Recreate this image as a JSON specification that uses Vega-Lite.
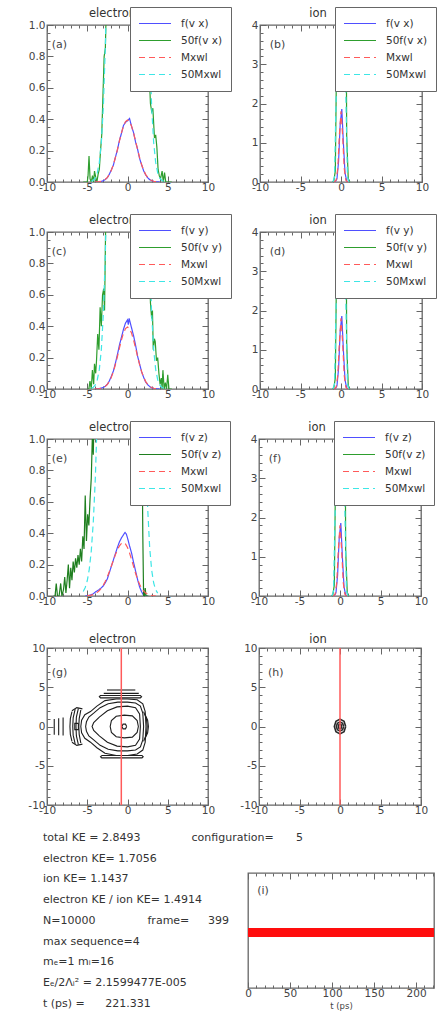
{
"$schema":"https://vega.github.io/schema/vega-lite/v6.json",
"padding":{"left":27,"top":5,"right":0,"bottom":0},
"background":"white",
"config":{
 "font":"DejaVu Sans",
 "view":{"stroke":"#666","strokeWidth":1.3},
 "axis":{"domain":false,"grid":false,"labelFont":"DejaVu Sans","labelFontSize":10.5,"labelColor":"#444","tickColor":"#666","tickWidth":1,"titleFont":"DejaVu Sans","titleFontWeight":"normal","titleColor":"#444"},
 "title":{"font":"DejaVu Sans","fontSize":11.5,"fontWeight":"normal","color":"#333","anchor":"middle","frame":"group"},
 "legend":{"strokeColor":"#666","fillColor":"white","padding":8,"labelFont":"DejaVu Sans","labelFontSize":10.5,"labelColor":"#333","symbolStrokeWidth":1.4,"rowPadding":0},
 "line":{"strokeWidth":1.2}
},
"datasets":{
 "af":[
  {"v":-4,"p":0,"s":"f"},{"v":-3.75,"p":0.001,"s":"f"},{"v":-3.5,"p":0.002,"s":"f"},{"v":-3.25,"p":0.004,"s":"f"},{"v":-3,"p":0.008,"s":"f"},{"v":-2.75,"p":0.016,"s":"f"},{"v":-2.5,"p":0.028,"s":"f"},{"v":-2.25,"p":0.05,"s":"f"},{"v":-2,"p":0.078,"s":"f"},{"v":-1.75,"p":0.108,"s":"f"},{"v":-1.5,"p":0.158,"s":"f"},{"v":-1.25,"p":0.205,"s":"f"},{"v":-1,"p":0.265,"s":"f"},{"v":-0.75,"p":0.31,"s":"f"},{"v":-0.5,"p":0.36,"s":"f"},{"v":-0.25,"p":0.38,"s":"f"},{"v":0,"p":0.39,"s":"f"},{"v":0.25,"p":0.405,"s":"f"},{"v":0.5,"p":0.355,"s":"f"},{"v":0.75,"p":0.315,"s":"f"},{"v":1,"p":0.255,"s":"f"},{"v":1.25,"p":0.21,"s":"f"},{"v":1.5,"p":0.15,"s":"f"},{"v":1.75,"p":0.11,"s":"f"},{"v":2,"p":0.072,"s":"f"},{"v":2.25,"p":0.046,"s":"f"},{"v":2.5,"p":0.028,"s":"f"},{"v":2.75,"p":0.015,"s":"f"},{"v":3,"p":0.009,"s":"f"},{"v":3.25,"p":0.004,"s":"f"},{"v":3.5,"p":0.002,"s":"f"},{"v":3.75,"p":0.001,"s":"f"},{"v":4,"p":0,"s":"f"},
  {"v":-5.5,"p":0,"s":"50f"},{"v":-5,"p":0,"s":"50f"},{"v":-4.9,"p":0.04,"s":"50f"},{"v":-4.78,"p":0.165,"s":"50f"},{"v":-4.65,"p":0.02,"s":"50f"},{"v":-4.5,"p":0,"s":"50f"},{"v":-4.35,"p":0.04,"s":"50f"},{"v":-4.2,"p":0,"s":"50f"},{"v":-4.1,"p":0.07,"s":"50f"},{"v":-3.95,"p":0.03,"s":"50f"},{"v":-3.8,"p":0,"s":"50f"},{"v":-3.65,"p":0.05,"s":"50f"},{"v":-3.5,"p":0.08,"s":"50f"},{"v":-3.35,"p":0.2,"s":"50f"},{"v":-3.2,"p":0.3,"s":"50f"},{"v":-3.05,"p":0.55,"s":"50f"},{"v":-2.9,"p":0.8,"s":"50f"},{"v":-2.75,"p":0.85,"s":"50f"},{"v":-2.6,"p":1.2,"s":"50f"},{"v":-2.5,"p":1.4,"s":"50f"},{"v":-2.25,"p":2.5,"s":"50f"},{"v":-2,"p":3.9,"s":"50f"},{"v":-1.5,"p":7.9,"s":"50f"},{"v":-1,"p":13.2,"s":"50f"},{"v":-0.5,"p":18,"s":"50f"},{"v":0,"p":19.5,"s":"50f"},{"v":0.5,"p":17.8,"s":"50f"},{"v":1,"p":12.8,"s":"50f"},{"v":1.5,"p":7.5,"s":"50f"},{"v":2,"p":3.6,"s":"50f"},{"v":2.25,"p":2.3,"s":"50f"},{"v":2.5,"p":1.4,"s":"50f"},{"v":2.65,"p":0.75,"s":"50f"},{"v":2.85,"p":0.5,"s":"50f"},{"v":3,"p":0.45,"s":"50f"},{"v":3.15,"p":0.47,"s":"50f"},{"v":3.35,"p":0.28,"s":"50f"},{"v":3.5,"p":0.3,"s":"50f"},{"v":3.65,"p":0.22,"s":"50f"},{"v":3.8,"p":0.08,"s":"50f"},{"v":3.95,"p":0.04,"s":"50f"},{"v":4.1,"p":0.02,"s":"50f"},{"v":4.3,"p":0.07,"s":"50f"},{"v":4.45,"p":0,"s":"50f"},{"v":4.6,"p":0.06,"s":"50f"},{"v":4.75,"p":0,"s":"50f"},{"v":5.5,"p":0,"s":"50f"}
 ],
 "mx":[
  {"v":-4,"p":0.0005,"s":"m"},{"v":-3.75,"p":0.0012,"s":"m"},{"v":-3.5,"p":0.0025,"s":"m"},{"v":-3.25,"p":0.005,"s":"m"},{"v":-3,"p":0.0096,"s":"m"},{"v":-2.75,"p":0.0173,"s":"m"},{"v":-2.5,"p":0.0299,"s":"m"},{"v":-2.25,"p":0.0487,"s":"m"},{"v":-2,"p":0.0756,"s":"m"},{"v":-1.75,"p":0.1114,"s":"m"},{"v":-1.5,"p":0.1559,"s":"m"},{"v":-1.25,"p":0.2071,"s":"m"},{"v":-1,"p":0.2613,"s":"m"},{"v":-0.75,"p":0.3131,"s":"m"},{"v":-0.5,"p":0.3562,"s":"m"},{"v":-0.25,"p":0.385,"s":"m"},{"v":0,"p":0.395,"s":"m"},{"v":0.25,"p":0.385,"s":"m"},{"v":0.5,"p":0.3562,"s":"m"},{"v":0.75,"p":0.3131,"s":"m"},{"v":1,"p":0.2613,"s":"m"},{"v":1.25,"p":0.2071,"s":"m"},{"v":1.5,"p":0.1559,"s":"m"},{"v":1.75,"p":0.1114,"s":"m"},{"v":2,"p":0.0756,"s":"m"},{"v":2.25,"p":0.0487,"s":"m"},{"v":2.5,"p":0.0299,"s":"m"},{"v":2.75,"p":0.0173,"s":"m"},{"v":3,"p":0.0096,"s":"m"},{"v":3.25,"p":0.005,"s":"m"},{"v":3.5,"p":0.0025,"s":"m"},{"v":3.75,"p":0.0012,"s":"m"},{"v":4,"p":0.0005,"s":"m"},
  {"v":-4.5,"p":0.0046,"s":"50m"},{"v":-4.25,"p":0.0113,"s":"50m"},{"v":-4,"p":0.026,"s":"50m"},{"v":-3.75,"p":0.059,"s":"50m"},{"v":-3.5,"p":0.125,"s":"50m"},{"v":-3.25,"p":0.251,"s":"50m"},{"v":-3,"p":0.479,"s":"50m"},{"v":-2.75,"p":0.867,"s":"50m"},{"v":-2.5,"p":1.49,"s":"50m"},{"v":-2.25,"p":2.44,"s":"50m"},{"v":-2,"p":3.78,"s":"50m"},{"v":-1.5,"p":7.79,"s":"50m"},{"v":-1,"p":13.07,"s":"50m"},{"v":-0.5,"p":17.81,"s":"50m"},{"v":0,"p":19.75,"s":"50m"},{"v":0.5,"p":17.81,"s":"50m"},{"v":1,"p":13.07,"s":"50m"},{"v":1.5,"p":7.79,"s":"50m"},{"v":2,"p":3.78,"s":"50m"},{"v":2.25,"p":2.44,"s":"50m"},{"v":2.5,"p":1.49,"s":"50m"},{"v":2.75,"p":0.867,"s":"50m"},{"v":3,"p":0.479,"s":"50m"},{"v":3.25,"p":0.251,"s":"50m"},{"v":3.5,"p":0.125,"s":"50m"},{"v":3.75,"p":0.059,"s":"50m"},{"v":4,"p":0.026,"s":"50m"},{"v":4.25,"p":0.0113,"s":"50m"},{"v":4.5,"p":0.0046,"s":"50m"}
 ],
 "cf":[
  {"v":-4,"p":0,"s":"f"},{"v":-3.75,"p":0.001,"s":"f"},{"v":-3.5,"p":0.003,"s":"f"},{"v":-3.25,"p":0.006,"s":"f"},{"v":-3,"p":0.01,"s":"f"},{"v":-2.75,"p":0.018,"s":"f"},{"v":-2.5,"p":0.03,"s":"f"},{"v":-2.25,"p":0.052,"s":"f"},{"v":-2,"p":0.082,"s":"f"},{"v":-1.75,"p":0.115,"s":"f"},{"v":-1.5,"p":0.165,"s":"f"},{"v":-1.25,"p":0.22,"s":"f"},{"v":-1,"p":0.28,"s":"f"},{"v":-0.75,"p":0.33,"s":"f"},{"v":-0.5,"p":0.38,"s":"f"},{"v":-0.25,"p":0.42,"s":"f"},{"v":0,"p":0.44,"s":"f"},{"v":0.1,"p":0.41,"s":"f"},{"v":0.2,"p":0.45,"s":"f"},{"v":0.35,"p":0.42,"s":"f"},{"v":0.5,"p":0.39,"s":"f"},{"v":0.75,"p":0.34,"s":"f"},{"v":1,"p":0.28,"s":"f"},{"v":1.25,"p":0.21,"s":"f"},{"v":1.5,"p":0.16,"s":"f"},{"v":1.75,"p":0.11,"s":"f"},{"v":2,"p":0.075,"s":"f"},{"v":2.25,"p":0.045,"s":"f"},{"v":2.5,"p":0.028,"s":"f"},{"v":2.75,"p":0.016,"s":"f"},{"v":3,"p":0.008,"s":"f"},{"v":3.25,"p":0.004,"s":"f"},{"v":3.5,"p":0.002,"s":"f"},{"v":3.75,"p":0.001,"s":"f"},{"v":4,"p":0,"s":"f"},
  {"v":-5,"p":0,"s":"50f"},{"v":-4.8,"p":0,"s":"50f"},{"v":-4.66,"p":0.05,"s":"50f"},{"v":-4.5,"p":0,"s":"50f"},{"v":-4.36,"p":0.12,"s":"50f"},{"v":-4.2,"p":0.03,"s":"50f"},{"v":-4.1,"p":0.16,"s":"50f"},{"v":-3.95,"p":0.1,"s":"50f"},{"v":-3.85,"p":0.18,"s":"50f"},{"v":-3.7,"p":0.35,"s":"50f"},{"v":-3.55,"p":0.25,"s":"50f"},{"v":-3.4,"p":0.52,"s":"50f"},{"v":-3.25,"p":0.4,"s":"50f"},{"v":-3.1,"p":0.6,"s":"50f"},{"v":-2.95,"p":0.64,"s":"50f"},{"v":-2.85,"p":0.5,"s":"50f"},{"v":-2.7,"p":1.1,"s":"50f"},{"v":-2.5,"p":1.5,"s":"50f"},{"v":-2.25,"p":2.6,"s":"50f"},{"v":-2,"p":4.1,"s":"50f"},{"v":-1.5,"p":8.25,"s":"50f"},{"v":-1,"p":14,"s":"50f"},{"v":-0.5,"p":19,"s":"50f"},{"v":0,"p":22,"s":"50f"},{"v":0.5,"p":19.5,"s":"50f"},{"v":1,"p":14,"s":"50f"},{"v":1.5,"p":8,"s":"50f"},{"v":2,"p":3.75,"s":"50f"},{"v":2.25,"p":2.25,"s":"50f"},{"v":2.5,"p":1.4,"s":"50f"},{"v":2.7,"p":0.8,"s":"50f"},{"v":2.85,"p":0.55,"s":"50f"},{"v":3,"p":0.45,"s":"50f"},{"v":3.1,"p":0.5,"s":"50f"},{"v":3.2,"p":0.25,"s":"50f"},{"v":3.35,"p":0.32,"s":"50f"},{"v":3.45,"p":0.3,"s":"50f"},{"v":3.6,"p":0.18,"s":"50f"},{"v":3.75,"p":0.2,"s":"50f"},{"v":3.9,"p":0.1,"s":"50f"},{"v":4.05,"p":0.03,"s":"50f"},{"v":4.2,"p":0.07,"s":"50f"},{"v":4.3,"p":0,"s":"50f"},{"v":4.4,"p":0.12,"s":"50f"},{"v":4.55,"p":0,"s":"50f"},{"v":4.7,"p":0.04,"s":"50f"},{"v":4.85,"p":0,"s":"50f"},{"v":5,"p":0.09,"s":"50f"},{"v":5.15,"p":0,"s":"50f"},{"v":5.5,"p":0,"s":"50f"}
 ],
 "ef":[
  {"v":-5.25,"p":0,"s":"f"},{"v":-5,"p":0.002,"s":"f"},{"v":-4.75,"p":0.004,"s":"f"},{"v":-4.5,"p":0.008,"s":"f"},{"v":-4.25,"p":0.014,"s":"f"},{"v":-4,"p":0.025,"s":"f"},{"v":-3.75,"p":0.033,"s":"f"},{"v":-3.5,"p":0.042,"s":"f"},{"v":-3.25,"p":0.052,"s":"f"},{"v":-3,"p":0.065,"s":"f"},{"v":-2.75,"p":0.085,"s":"f"},{"v":-2.5,"p":0.11,"s":"f"},{"v":-2.25,"p":0.15,"s":"f"},{"v":-2,"p":0.19,"s":"f"},{"v":-1.75,"p":0.23,"s":"f"},{"v":-1.5,"p":0.27,"s":"f"},{"v":-1.25,"p":0.31,"s":"f"},{"v":-1,"p":0.345,"s":"f"},{"v":-0.75,"p":0.37,"s":"f"},{"v":-0.5,"p":0.39,"s":"f"},{"v":-0.3,"p":0.405,"s":"f"},{"v":-0.15,"p":0.395,"s":"f"},{"v":0,"p":0.37,"s":"f"},{"v":0.25,"p":0.32,"s":"f"},{"v":0.5,"p":0.275,"s":"f"},{"v":0.75,"p":0.215,"s":"f"},{"v":1,"p":0.16,"s":"f"},{"v":1.25,"p":0.105,"s":"f"},{"v":1.5,"p":0.058,"s":"f"},{"v":1.75,"p":0.027,"s":"f"},{"v":2,"p":0.004,"s":"f"},{"v":2.25,"p":0,"s":"f"},{"v":2.5,"p":0,"s":"f"},
  {"v":-9.2,"p":0,"s":"50f"},{"v":-9,"p":0,"s":"50f"},{"v":-8.85,"p":0.08,"s":"50f"},{"v":-8.7,"p":0,"s":"50f"},{"v":-8.5,"p":0,"s":"50f"},{"v":-8.3,"p":0.08,"s":"50f"},{"v":-8.15,"p":0,"s":"50f"},{"v":-7.95,"p":0.04,"s":"50f"},{"v":-7.8,"p":0.12,"s":"50f"},{"v":-7.65,"p":0.02,"s":"50f"},{"v":-7.5,"p":0.1,"s":"50f"},{"v":-7.35,"p":0.2,"s":"50f"},{"v":-7.2,"p":0.05,"s":"50f"},{"v":-7.05,"p":0.18,"s":"50f"},{"v":-6.9,"p":0.1,"s":"50f"},{"v":-6.75,"p":0.22,"s":"50f"},{"v":-6.6,"p":0.15,"s":"50f"},{"v":-6.45,"p":0.24,"s":"50f"},{"v":-6.3,"p":0.18,"s":"50f"},{"v":-6.15,"p":0.26,"s":"50f"},{"v":-6,"p":0.2,"s":"50f"},{"v":-5.85,"p":0.3,"s":"50f"},{"v":-5.7,"p":0.22,"s":"50f"},{"v":-5.55,"p":0.38,"s":"50f"},{"v":-5.4,"p":0.3,"s":"50f"},{"v":-5.25,"p":0.64,"s":"50f"},{"v":-5.1,"p":0.35,"s":"50f"},{"v":-4.95,"p":0.52,"s":"50f"},{"v":-4.8,"p":0.45,"s":"50f"},{"v":-4.65,"p":0.62,"s":"50f"},{"v":-4.5,"p":0.75,"s":"50f"},{"v":-4.35,"p":1.05,"s":"50f"},{"v":-4.25,"p":0.9,"s":"50f"},{"v":-4.1,"p":1.3,"s":"50f"},{"v":-4,"p":1.25,"s":"50f"},{"v":-3.75,"p":1.65,"s":"50f"},{"v":-3.5,"p":2.1,"s":"50f"},{"v":-3,"p":3.25,"s":"50f"},{"v":-2.5,"p":5.5,"s":"50f"},{"v":-2,"p":9.5,"s":"50f"},{"v":-1,"p":17.2,"s":"50f"},{"v":0,"p":18.5,"s":"50f"},{"v":1,"p":8,"s":"50f"},{"v":1.5,"p":2.9,"s":"50f"},{"v":1.75,"p":1.35,"s":"50f"},{"v":1.9,"p":0.4,"s":"50f"},{"v":2,"p":0,"s":"50f"},{"v":2.1,"p":0,"s":"50f"},{"v":2.2,"p":0.05,"s":"50f"},{"v":2.3,"p":0,"s":"50f"},{"v":2.6,"p":0,"s":"50f"}
 ],
 "mxe":[
  {"v":-5,"p":0.0019,"s":"m"},{"v":-4.75,"p":0.0034,"s":"m"},{"v":-4.5,"p":0.0057,"s":"m"},{"v":-4.25,"p":0.0094,"s":"m"},{"v":-4,"p":0.0149,"s":"m"},{"v":-3.75,"p":0.023,"s":"m"},{"v":-3.5,"p":0.0342,"s":"m"},{"v":-3.25,"p":0.0494,"s":"m"},{"v":-3,"p":0.0691,"s":"m"},{"v":-2.75,"p":0.0935,"s":"m"},{"v":-2.5,"p":0.1225,"s":"m"},{"v":-2.25,"p":0.1557,"s":"m"},{"v":-2,"p":0.1915,"s":"m"},{"v":-1.75,"p":0.2282,"s":"m"},{"v":-1.5,"p":0.2634,"s":"m"},{"v":-1.25,"p":0.2945,"s":"m"},{"v":-1,"p":0.319,"s":"m"},{"v":-0.75,"p":0.3346,"s":"m"},{"v":-0.5,"p":0.34,"s":"m"},{"v":-0.25,"p":0.332,"s":"m"},{"v":0,"p":0.3093,"s":"m"},{"v":0.25,"p":0.2749,"s":"m"},{"v":0.5,"p":0.233,"s":"m"},{"v":0.75,"p":0.1884,"s":"m"},{"v":1,"p":0.1452,"s":"m"},{"v":1.25,"p":0.1068,"s":"m"},{"v":1.5,"p":0.0749,"s":"m"},{"v":1.75,"p":0.0502,"s":"m"},{"v":2,"p":0.032,"s":"m"},{"v":2.25,"p":0.0195,"s":"m"},{"v":2.5,"p":0.0113,"s":"m"},{"v":2.75,"p":0.0063,"s":"m"},{"v":3,"p":0.0033,"s":"m"},{"v":3.25,"p":0.0017,"s":"m"},{"v":3.5,"p":0.0008,"s":"m"},
  {"v":-5.5,"p":0.029,"s":"50m"},{"v":-5.25,"p":0.054,"s":"50m"},{"v":-5,"p":0.097,"s":"50m"},{"v":-4.75,"p":0.17,"s":"50m"},{"v":-4.5,"p":0.287,"s":"50m"},{"v":-4.25,"p":0.47,"s":"50m"},{"v":-4,"p":0.746,"s":"50m"},{"v":-3.75,"p":1.15,"s":"50m"},{"v":-3.5,"p":1.71,"s":"50m"},{"v":-3.25,"p":2.47,"s":"50m"},{"v":-3,"p":3.45,"s":"50m"},{"v":-2.5,"p":6.1,"s":"50m"},{"v":-2,"p":9.6,"s":"50m"},{"v":-1.5,"p":13.2,"s":"50m"},{"v":-1,"p":15.95,"s":"50m"},{"v":-0.5,"p":17,"s":"50m"},{"v":0,"p":15.5,"s":"50m"},{"v":0.5,"p":11.7,"s":"50m"},{"v":1,"p":7.26,"s":"50m"},{"v":1.25,"p":5.34,"s":"50m"},{"v":1.5,"p":3.75,"s":"50m"},{"v":1.75,"p":2.51,"s":"50m"},{"v":2,"p":1.6,"s":"50m"},{"v":2.25,"p":0.974,"s":"50m"},{"v":2.5,"p":0.566,"s":"50m"},{"v":2.75,"p":0.313,"s":"50m"},{"v":3,"p":0.166,"s":"50m"},{"v":3.25,"p":0.083,"s":"50m"},{"v":3.5,"p":0.04,"s":"50m"},{"v":3.75,"p":0.018,"s":"50m"}
 ],
 "if":[
  {"v":-1.1,"p":0,"s":"f"},{"v":-0.9,"p":0.0002,"s":"f"},{"v":-0.7,"p":0.0055,"s":"f"},{"v":-0.5,"p":0.081,"s":"f"},{"v":-0.3,"p":0.52,"s":"f"},{"v":-0.1,"p":1.47,"s":"f"},{"v":0.1,"p":1.86,"s":"f"},{"v":0.3,"p":0.97,"s":"f"},{"v":0.5,"p":0.228,"s":"f"},{"v":0.7,"p":0.0235,"s":"f"},{"v":0.9,"p":0.001,"s":"f"},{"v":1.1,"p":0,"s":"f"},
  {"v":-1.1,"p":0,"s":"50f"},{"v":-0.9,"p":0.008,"s":"50f"},{"v":-0.7,"p":0.28,"s":"50f"},{"v":-0.5,"p":4.06,"s":"50f"},{"v":-0.3,"p":26,"s":"50f"},{"v":-0.1,"p":73,"s":"50f"},{"v":0.1,"p":93,"s":"50f"},{"v":0.3,"p":48.5,"s":"50f"},{"v":0.5,"p":11.4,"s":"50f"},{"v":0.7,"p":1.18,"s":"50f"},{"v":0.9,"p":0.053,"s":"50f"},{"v":1.1,"p":0,"s":"50f"}
 ],
 "im":[
  {"v":-1,"p":0.0001,"s":"m"},{"v":-0.8,"p":0.0024,"s":"m"},{"v":-0.6,"p":0.0437,"s":"m"},{"v":-0.4,"p":0.345,"s":"m"},{"v":-0.2,"p":1.19,"s":"m"},{"v":0,"p":1.8,"s":"m"},{"v":0.2,"p":1.19,"s":"m"},{"v":0.4,"p":0.345,"s":"m"},{"v":0.6,"p":0.0437,"s":"m"},{"v":0.8,"p":0.0024,"s":"m"},{"v":1,"p":0.0001,"s":"m"},
  {"v":-1,"p":0.003,"s":"50m"},{"v":-0.8,"p":0.122,"s":"50m"},{"v":-0.6,"p":2.18,"s":"50m"},{"v":-0.4,"p":17.2,"s":"50m"},{"v":-0.2,"p":59.5,"s":"50m"},{"v":0,"p":90,"s":"50m"},{"v":0.2,"p":59.5,"s":"50m"},{"v":0.4,"p":17.2,"s":"50m"},{"v":0.6,"p":2.18,"s":"50m"},{"v":0.8,"p":0.122,"s":"50m"},{"v":1,"p":0.003,"s":"50m"}
 ],
 "gc":[
  {"c":1,"i":0,"x":-0.1,"y":0},{"c":1,"i":1,"x":-0.25,"y":0.3},{"c":1,"i":2,"x":-0.55,"y":0.3},{"c":1,"i":3,"x":-0.7,"y":0},{"c":1,"i":4,"x":-0.55,"y":-0.3},{"c":1,"i":5,"x":-0.25,"y":-0.3},{"c":1,"i":6,"x":-0.1,"y":0},
  {"c":2,"i":0,"x":1.35,"y":0},{"c":2,"i":1,"x":1.2,"y":0.75},{"c":2,"i":2,"x":0.6,"y":1.35},{"c":2,"i":3,"x":-0.4,"y":1.45},{"c":2,"i":4,"x":-1.4,"y":1.3},{"c":2,"i":5,"x":-2,"y":0.75},{"c":2,"i":6,"x":-2.15,"y":0},{"c":2,"i":7,"x":-2,"y":-0.75},{"c":2,"i":8,"x":-1.4,"y":-1.3},{"c":2,"i":9,"x":-0.4,"y":-1.45},{"c":2,"i":10,"x":0.6,"y":-1.35},{"c":2,"i":11,"x":1.2,"y":-0.75},{"c":2,"i":12,"x":1.35,"y":0},
  {"c":3,"i":0,"x":2,"y":0},{"c":3,"i":1,"x":1.9,"y":1.7},{"c":3,"i":2,"x":1.6,"y":2.6},{"c":3,"i":3,"x":1,"y":3},{"c":3,"i":4,"x":0,"y":3.1},{"c":3,"i":5,"x":-1.2,"y":3.1},{"c":3,"i":6,"x":-2.4,"y":2.9},{"c":3,"i":7,"x":-3.4,"y":2.4},{"c":3,"i":8,"x":-4.2,"y":1.7},{"c":3,"i":9,"x":-4.8,"y":1.2},{"c":3,"i":10,"x":-5.1,"y":0.6},{"c":3,"i":11,"x":-5.2,"y":0},{"c":3,"i":12,"x":-5.1,"y":-0.6},{"c":3,"i":13,"x":-4.8,"y":-1.2},{"c":3,"i":14,"x":-4.2,"y":-1.7},{"c":3,"i":15,"x":-3.4,"y":-2.4},{"c":3,"i":16,"x":-2.4,"y":-2.9},{"c":3,"i":17,"x":-1.2,"y":-3.1},{"c":3,"i":18,"x":0,"y":-3.1},{"c":3,"i":19,"x":1,"y":-3},{"c":3,"i":20,"x":1.6,"y":-2.6},{"c":3,"i":21,"x":1.9,"y":-1.7},{"c":3,"i":22,"x":2,"y":0},
  {"c":4,"i":0,"x":2.3,"y":0},{"c":4,"i":1,"x":2.2,"y":1.9},{"c":4,"i":2,"x":1.9,"y":2.9},{"c":4,"i":3,"x":1.2,"y":3.4},{"c":4,"i":4,"x":0,"y":3.5},{"c":4,"i":5,"x":-1.4,"y":3.5},{"c":4,"i":6,"x":-2.8,"y":3.3},{"c":4,"i":7,"x":-3.8,"y":2.6},{"c":4,"i":8,"x":-4.6,"y":1.9},{"c":4,"i":9,"x":-5.3,"y":1.5},{"c":4,"i":10,"x":-5.7,"y":0.8},{"c":4,"i":11,"x":-5.8,"y":0},{"c":4,"i":12,"x":-5.7,"y":-0.8},{"c":4,"i":13,"x":-5.3,"y":-1.5},{"c":4,"i":14,"x":-4.6,"y":-2},{"c":4,"i":15,"x":-3.8,"y":-2.7},{"c":4,"i":16,"x":-2.8,"y":-3.4},{"c":4,"i":17,"x":-1.4,"y":-3.7},{"c":4,"i":18,"x":0,"y":-3.7},{"c":4,"i":19,"x":1.2,"y":-3.5},{"c":4,"i":20,"x":1.9,"y":-3},{"c":4,"i":21,"x":2.2,"y":-2},{"c":4,"i":22,"x":2.3,"y":0},
  {"c":5,"i":0,"x":1.6,"y":0},{"c":5,"i":1,"x":1.5,"y":1.6},{"c":5,"i":2,"x":1,"y":2.4},{"c":5,"i":3,"x":0,"y":2.6},{"c":5,"i":4,"x":-1.3,"y":2.5},{"c":5,"i":5,"x":-2.5,"y":2},{"c":5,"i":6,"x":-3.5,"y":1.2},{"c":5,"i":7,"x":-4.2,"y":0.5},{"c":5,"i":8,"x":-4.4,"y":0},{"c":5,"i":9,"x":-4.2,"y":-0.5},{"c":5,"i":10,"x":-3.5,"y":-1.2},{"c":5,"i":11,"x":-2.5,"y":-2},{"c":5,"i":12,"x":-1.3,"y":-2.5},{"c":5,"i":13,"x":0,"y":-2.6},{"c":5,"i":14,"x":1,"y":-2.4},{"c":5,"i":15,"x":1.5,"y":-1.6},{"c":5,"i":16,"x":1.6,"y":0},
  {"c":6,"i":0,"x":2,"y":1.9},{"c":6,"i":1,"x":2.35,"y":1},{"c":6,"i":2,"x":2.45,"y":0},{"c":6,"i":3,"x":2.35,"y":-1},{"c":6,"i":4,"x":2,"y":-1.9},
  {"c":7,"i":0,"x":2.15,"y":1.6},{"c":7,"i":1,"x":2.5,"y":0.8},{"c":7,"i":2,"x":2.6,"y":0},{"c":7,"i":3,"x":2.5,"y":-0.8},{"c":7,"i":4,"x":2.15,"y":-1.6},
  {"c":8,"i":0,"x":-2.55,"y":4.65},{"c":8,"i":1,"x":0.97,"y":4.65},
  {"c":9,"i":0,"x":-2.95,"y":4.22},{"c":9,"i":1,"x":1.4,"y":4.22},
  {"c":10,"i":0,"x":-3.35,"y":3.95},{"c":10,"i":1,"x":1.6,"y":3.95},{"c":10,"i":2,"x":1.75,"y":3.8},{"c":10,"i":3,"x":1.6,"y":3.65},{"c":10,"i":4,"x":-3.35,"y":3.65},{"c":10,"i":5,"x":-3.5,"y":3.8},{"c":10,"i":6,"x":-3.35,"y":3.95},
  {"c":11,"i":0,"x":-3.2,"y":-3.7},{"c":11,"i":1,"x":1.8,"y":-3.7},{"c":11,"i":2,"x":1.95,"y":-3.85},{"c":11,"i":3,"x":1.8,"y":-4},{"c":11,"i":4,"x":-3.2,"y":-4},{"c":11,"i":5,"x":-3.35,"y":-3.85},{"c":11,"i":6,"x":-3.2,"y":-3.7},
  {"c":12,"i":0,"x":-9.1,"y":0.95},{"c":12,"i":1,"x":-9.1,"y":-1.05},
  {"c":13,"i":0,"x":-8.55,"y":1.05},{"c":13,"i":1,"x":-8.55,"y":-1.1},
  {"c":14,"i":0,"x":-8,"y":1.15},{"c":14,"i":1,"x":-8,"y":-1.15},
  {"c":15,"i":0,"x":-6.9,"y":1.9},{"c":15,"i":1,"x":-7.1,"y":1},{"c":15,"i":2,"x":-7.15,"y":0},{"c":15,"i":3,"x":-7.1,"y":-1},{"c":15,"i":4,"x":-6.9,"y":-1.9},
  {"c":16,"i":0,"x":-6.5,"y":2.2},{"c":16,"i":1,"x":-6.75,"y":1.1},{"c":16,"i":2,"x":-6.8,"y":0},{"c":16,"i":3,"x":-6.75,"y":-1.1},{"c":16,"i":4,"x":-6.5,"y":-2.2},
  {"c":17,"i":0,"x":-6.1,"y":2.3},{"c":17,"i":1,"x":-6.35,"y":1.2},{"c":17,"i":2,"x":-6.4,"y":0},{"c":17,"i":3,"x":-6.35,"y":-1.2},{"c":17,"i":4,"x":-6.1,"y":-2.3},
  {"c":18,"i":0,"x":-5.8,"y":2.1},{"c":18,"i":1,"x":-6,"y":1},{"c":18,"i":2,"x":-6.05,"y":0},{"c":18,"i":3,"x":-6,"y":-1},{"c":18,"i":4,"x":-5.8,"y":-2.1},
  {"c":19,"i":0,"x":-6.1,"y":0.4},{"c":19,"i":1,"x":-6.55,"y":0.4},{"c":19,"i":2,"x":-6.55,"y":-0.4},{"c":19,"i":3,"x":-6.1,"y":-0.4},{"c":19,"i":4,"x":-6.1,"y":0.4},
  {"c":20,"i":0,"x":-5.6,"y":2.25},{"c":20,"i":1,"x":-6.3,"y":2.4},{"c":20,"i":2,"x":-6.9,"y":2},
  {"c":21,"i":0,"x":-5.6,"y":-2.25},{"c":21,"i":1,"x":-6.3,"y":-2.4},{"c":21,"i":2,"x":-6.9,"y":-2}
 ],
 "hc":[
  {"c":1,"i":0,"x":0.7,"y":0},{"c":1,"i":1,"x":0.5,"y":0.67},{"c":1,"i":2,"x":0,"y":0.95},{"c":1,"i":3,"x":-0.5,"y":0.67},{"c":1,"i":4,"x":-0.7,"y":0},{"c":1,"i":5,"x":-0.5,"y":-0.67},{"c":1,"i":6,"x":0,"y":-0.95},{"c":1,"i":7,"x":0.5,"y":-0.67},{"c":1,"i":8,"x":0.7,"y":0},
  {"c":2,"i":0,"x":0.45,"y":0},{"c":2,"i":1,"x":0.32,"y":0.42},{"c":2,"i":2,"x":0,"y":0.6},{"c":2,"i":3,"x":-0.32,"y":0.42},{"c":2,"i":4,"x":-0.45,"y":0},{"c":2,"i":5,"x":-0.32,"y":-0.42},{"c":2,"i":6,"x":0,"y":-0.6},{"c":2,"i":7,"x":0.32,"y":-0.42},{"c":2,"i":8,"x":0.45,"y":0},
  {"c":3,"i":0,"x":0.2,"y":0},{"c":3,"i":1,"x":0.14,"y":0.21},{"c":3,"i":2,"x":0,"y":0.3},{"c":3,"i":3,"x":-0.14,"y":0.21},{"c":3,"i":4,"x":-0.2,"y":0},{"c":3,"i":5,"x":-0.14,"y":-0.21},{"c":3,"i":6,"x":0,"y":-0.3},{"c":3,"i":7,"x":0.14,"y":-0.21},{"c":3,"i":8,"x":0.2,"y":0}
 ],
 "ti":[{"t":0,"r":1.49},{"t":221.331,"r":1.49}],
 "txt0":[
  {"line":0,"col":0,"txt":"total KE =  2.8493"},{"line":0,"col":27,"txt":"configuration="},{"line":0,"col":46,"txt":"5"}
 ],
 "txt":[
  {"line":1,"col":0,"txt":"electron KE=  1.7056"},
  {"line":2,"col":0,"txt":"ion KE=  1.1437"},
  {"line":3,"col":0,"txt":"electron KE / ion KE=  1.4914"},
  {"line":4,"col":0,"txt":"N=10000"},{"line":4,"col":19,"txt":"frame="},{"line":4,"col":30,"txt":"399"},
  {"line":5,"col":0,"txt":"max sequence=4"},
  {"line":6,"col":0,"txt":"mₑ=1 mᵢ=16"},
  {"line":7,"col":0,"txt":"Eₑ/2Λᵢ² = 2.1599477E-005"},
  {"line":8,"col":0,"txt":"t (ps) ="},{"line":8,"col":11.3,"txt":"221.331"}
 ]
},
"spacing":8,
"resolve":{"scale":{"x":"independent","y":"independent","color":"independent","strokeDash":"independent"}},
"vconcat":[
{"spacing":12,
 "resolve":{"scale":{"x":"independent","y":"independent","color":"independent","strokeDash":"independent"}},
 "vconcat":[
 {"spacing":21,
  "resolve":{"scale":{"x":"independent","y":"independent","color":"independent","strokeDash":"independent"}},
  "vconcat":[
 {"spacing":15,
  "resolve":{"scale":{"x":"independent","y":"independent","color":"independent","strokeDash":"independent"}},
  "vconcat":[
   {"spacing":17,
    "resolve":{"scale":{"x":"independent","y":"independent","color":"independent","strokeDash":"independent"}},
    "hconcat":[
     {"width":161,"height":157,"title":{"text":"electron","dx":-15,"offset":-13},
      "layer":[
       {"data":{"name":"af"},"mark":{"type":"line","clip":true},
        "encoding":{
         "x":{"field":"v","type":"quantitative","scale":{"domain":[-10,10],"nice":false,"zero":false},"axis":{"orient":"bottom","title":null,"values":[-10,-9,-8,-7,-6,-5,-4,-3,-2,-1,0,1,2,3,4,5,6,7,8,9,10],"labelExpr":"datum.value % 5 === 0 ? replace(datum.label, '\u2212', '-') : ''","tickSize":{"condition":{"test":"datum.value % 5 === 0","value":-6},"value":-3},"labelPadding":6,"labelFlush":false,"labelOverlap":false}},
         "y":{"field":"p","type":"quantitative","scale":{"domain":[0,1],"nice":false},"axis":{"orient":"left","title":null,"values":[0,0.05,0.1,0.15,0.2,0.25,0.3,0.35,0.4,0.45,0.5,0.55,0.6,0.65,0.7,0.75,0.8,0.85,0.9,0.95,1],"format":".1f","labelExpr":"round(datum.value*100) % 20 === 0 ? datum.label : ''","tickSize":{"condition":{"test":"round(datum.value*100) % 20 === 0","value":-6},"value":-3},"labelPadding":8,"labelOverlap":false}},
         "color":{"field":"s","type":"nominal","scale":{"domain":["f","50f","m","50m"],"range":["#4f4fff","#2e9e2e","#ff5a5a","#3ee6e6"]},"legend":{"orient":"none","legendX":83,"legendY":-18,"title":null,"symbolType":"stroke","symbolSize":1024,"clipHeight":17,"labelOffset":9,"zindex":1,"labelExpr":"datum.label == 'f' ? 'f(v x)' : datum.label == '50f' ? '\u00a050f(v x)' : datum.label == 'm' ? 'Mxwl' : '\u00a050Mxwl'","encode":{"symbols":{"update":{"strokeDash":{"signal":"(datum.value === 'm' || datum.value === '50m') ? [6,4] : [1,0]"}}}}}},
         "strokeDash":{"field":"s","type":"nominal","scale":{"domain":["f","50f","m","50m"],"range":[[1,0],[1,0],[6,4],[6,4]]},"legend":null}
        }},
       {"data":{"name":"mx"},"mark":{"type":"line","clip":true},
        "encoding":{
         "x":{"field":"v","type":"quantitative","scale":{"domain":[-10,10],"nice":false,"zero":false},"axis":{"orient":"top","title":null,"values":[-10,-9,-8,-7,-6,-5,-4,-3,-2,-1,0,1,2,3,4,5,6,7,8,9,10],"labels":false,"tickSize":{"condition":{"test":"datum.value % 5 === 0","value":-6},"value":-3}}},
         "y":{"field":"p","type":"quantitative","scale":{"domain":[0,1],"nice":false},"axis":{"orient":"right","title":null,"values":[0,0.05,0.1,0.15,0.2,0.25,0.3,0.35,0.4,0.45,0.5,0.55,0.6,0.65,0.7,0.75,0.8,0.85,0.9,0.95,1],"labels":false,"tickSize":{"condition":{"test":"round(datum.value*100) % 20 === 0","value":-6},"value":-3}}},
         "color":{"field":"s","type":"nominal","scale":{"domain":["f","50f","m","50m"],"range":["#4f4fff","#2e9e2e","#ff5a5a","#3ee6e6"]},"legend":{"orient":"none","legendX":83,"legendY":-18,"title":null,"symbolType":"stroke","symbolSize":1024,"clipHeight":17,"labelOffset":9,"zindex":1,"labelExpr":"datum.label == 'f' ? 'f(v x)' : datum.label == '50f' ? '\u00a050f(v x)' : datum.label == 'm' ? 'Mxwl' : '\u00a050Mxwl'","encode":{"symbols":{"update":{"strokeDash":{"signal":"(datum.value === 'm' || datum.value === '50m') ? [6,4] : [1,0]"}}}}}},
         "strokeDash":{"field":"s","type":"nominal","scale":{"domain":["f","50f","m","50m"],"range":[[1,0],[1,0],[6,4],[6,4]]},"legend":null}
        }},
       {"data":{"values":[{"lab":"(a)"}]},"mark":{"type":"text","align":"left","fontSize":11,"color":"#444"},
        "encoding":{"x":{"datum":-9.4,"type":"quantitative","axis":null},"y":{"datum":0.87,"type":"quantitative","axis":null},"text":{"field":"lab","type":"nominal"}}}
      ],
      "resolve":{"axis":{"x":"independent","y":"independent"}}},
     {"width":162,"height":157,"title":{"text":"ion","dx":-23,"offset":-13},
      "layer":[
       {"data":{"name":"if"},"mark":{"type":"line","clip":true},
        "encoding":{
         "x":{"field":"v","type":"quantitative","scale":{"domain":[-10,10],"nice":false,"zero":false},"axis":{"orient":"bottom","title":null,"values":[-10,-9,-8,-7,-6,-5,-4,-3,-2,-1,0,1,2,3,4,5,6,7,8,9,10],"labelExpr":"datum.value % 5 === 0 ? replace(datum.label, '\u2212', '-') : ''","tickSize":{"condition":{"test":"datum.value % 5 === 0","value":-6},"value":-3},"labelPadding":6,"labelFlush":false,"labelOverlap":false}},
         "y":{"field":"p","type":"quantitative","scale":{"domain":[0,4],"nice":false},"axis":{"orient":"left","title":null,"values":[0,0.2,0.4,0.6,0.8,1,1.2,1.4,1.6,1.8,2,2.2,2.4,2.6,2.8,3,3.2,3.4,3.6,3.8,4],"format":".0f","labelExpr":"round(datum.value*10) % 10 === 0 ? datum.label : ''","tickSize":{"condition":{"test":"round(datum.value*10) % 10 === 0","value":-6},"value":-3},"labelPadding":8,"labelOverlap":false}},
         "color":{"field":"s","type":"nominal","scale":{"domain":["f","50f","m","50m"],"range":["#4f4fff","#2e9e2e","#ff5a5a","#3ee6e6"]},"legend":{"orient":"none","legendX":75,"legendY":-18,"title":null,"symbolType":"stroke","symbolSize":1024,"clipHeight":17,"labelOffset":9,"zindex":1,"labelExpr":"datum.label == 'f' ? 'f(v x)' : datum.label == '50f' ? '\u00a050f(v x)' : datum.label == 'm' ? 'Mxwl' : '\u00a050Mxwl'","encode":{"symbols":{"update":{"strokeDash":{"signal":"(datum.value === 'm' || datum.value === '50m') ? [6,4] : [1,0]"}}}}}},
         "strokeDash":{"field":"s","type":"nominal","scale":{"domain":["f","50f","m","50m"],"range":[[1,0],[1,0],[6,4],[6,4]]},"legend":null}
        }},
       {"data":{"name":"im"},"mark":{"type":"line","clip":true},
        "encoding":{
         "x":{"field":"v","type":"quantitative","scale":{"domain":[-10,10],"nice":false,"zero":false},"axis":{"orient":"top","title":null,"values":[-10,-9,-8,-7,-6,-5,-4,-3,-2,-1,0,1,2,3,4,5,6,7,8,9,10],"labels":false,"tickSize":{"condition":{"test":"datum.value % 5 === 0","value":-6},"value":-3}}},
         "y":{"field":"p","type":"quantitative","scale":{"domain":[0,4],"nice":false},"axis":{"orient":"right","title":null,"values":[0,0.2,0.4,0.6,0.8,1,1.2,1.4,1.6,1.8,2,2.2,2.4,2.6,2.8,3,3.2,3.4,3.6,3.8,4],"labels":false,"tickSize":{"condition":{"test":"round(datum.value*10) % 10 === 0","value":-6},"value":-3}}},
         "color":{"field":"s","type":"nominal","scale":{"domain":["f","50f","m","50m"],"range":["#4f4fff","#2e9e2e","#ff5a5a","#3ee6e6"]},"legend":{"orient":"none","legendX":75,"legendY":-18,"title":null,"symbolType":"stroke","symbolSize":1024,"clipHeight":17,"labelOffset":9,"zindex":1,"labelExpr":"datum.label == 'f' ? 'f(v x)' : datum.label == '50f' ? '\u00a050f(v x)' : datum.label == 'm' ? 'Mxwl' : '\u00a050Mxwl'","encode":{"symbols":{"update":{"strokeDash":{"signal":"(datum.value === 'm' || datum.value === '50m') ? [6,4] : [1,0]"}}}}}},
         "strokeDash":{"field":"s","type":"nominal","scale":{"domain":["f","50f","m","50m"],"range":[[1,0],[1,0],[6,4],[6,4]]},"legend":null}
        }},
       {"data":{"values":[{"lab":"(b)"}]},"mark":{"type":"text","align":"left","fontSize":11,"color":"#444"},
        "encoding":{"x":{"datum":-8.8,"type":"quantitative","axis":null},"y":{"datum":3.48,"type":"quantitative","axis":null},"text":{"field":"lab","type":"nominal"}}}
      ],
      "resolve":{"axis":{"x":"independent","y":"independent"}}}
    ]},
   {"spacing":17,
    "resolve":{"scale":{"x":"independent","y":"independent","color":"independent","strokeDash":"independent"}},
    "hconcat":[
     {"width":161,"height":157,"title":{"text":"electron","dx":-15,"offset":-13},
      "layer":[
       {"data":{"name":"cf"},"mark":{"type":"line","clip":true},
        "encoding":{
         "x":{"field":"v","type":"quantitative","scale":{"domain":[-10,10],"nice":false,"zero":false},"axis":{"orient":"bottom","title":null,"values":[-10,-9,-8,-7,-6,-5,-4,-3,-2,-1,0,1,2,3,4,5,6,7,8,9,10],"labelExpr":"datum.value % 5 === 0 ? replace(datum.label, '\u2212', '-') : ''","tickSize":{"condition":{"test":"datum.value % 5 === 0","value":-6},"value":-3},"labelPadding":6,"labelFlush":false,"labelOverlap":false}},
         "y":{"field":"p","type":"quantitative","scale":{"domain":[0,1],"nice":false},"axis":{"orient":"left","title":null,"values":[0,0.05,0.1,0.15,0.2,0.25,0.3,0.35,0.4,0.45,0.5,0.55,0.6,0.65,0.7,0.75,0.8,0.85,0.9,0.95,1],"format":".1f","labelExpr":"round(datum.value*100) % 20 === 0 ? datum.label : ''","tickSize":{"condition":{"test":"round(datum.value*100) % 20 === 0","value":-6},"value":-3},"labelPadding":8,"labelOverlap":false}},
         "color":{"field":"s","type":"nominal","scale":{"domain":["f","50f","m","50m"],"range":["#4f4fff","#2e9e2e","#ff5a5a","#3ee6e6"]},"legend":{"orient":"none","legendX":83,"legendY":-18,"title":null,"symbolType":"stroke","symbolSize":1024,"clipHeight":17,"labelOffset":9,"zindex":1,"labelExpr":"datum.label == 'f' ? 'f(v y)' : datum.label == '50f' ? '\u00a050f(v y)' : datum.label == 'm' ? 'Mxwl' : '\u00a050Mxwl'","encode":{"symbols":{"update":{"strokeDash":{"signal":"(datum.value === 'm' || datum.value === '50m') ? [6,4] : [1,0]"}}}}}},
         "strokeDash":{"field":"s","type":"nominal","scale":{"domain":["f","50f","m","50m"],"range":[[1,0],[1,0],[6,4],[6,4]]},"legend":null}
        }},
       {"data":{"name":"mx"},"mark":{"type":"line","clip":true},
        "encoding":{
         "x":{"field":"v","type":"quantitative","scale":{"domain":[-10,10],"nice":false,"zero":false},"axis":{"orient":"top","title":null,"values":[-10,-9,-8,-7,-6,-5,-4,-3,-2,-1,0,1,2,3,4,5,6,7,8,9,10],"labels":false,"tickSize":{"condition":{"test":"datum.value % 5 === 0","value":-6},"value":-3}}},
         "y":{"field":"p","type":"quantitative","scale":{"domain":[0,1],"nice":false},"axis":{"orient":"right","title":null,"values":[0,0.05,0.1,0.15,0.2,0.25,0.3,0.35,0.4,0.45,0.5,0.55,0.6,0.65,0.7,0.75,0.8,0.85,0.9,0.95,1],"labels":false,"tickSize":{"condition":{"test":"round(datum.value*100) % 20 === 0","value":-6},"value":-3}}},
         "color":{"field":"s","type":"nominal","scale":{"domain":["f","50f","m","50m"],"range":["#4f4fff","#2e9e2e","#ff5a5a","#3ee6e6"]},"legend":{"orient":"none","legendX":83,"legendY":-18,"title":null,"symbolType":"stroke","symbolSize":1024,"clipHeight":17,"labelOffset":9,"zindex":1,"labelExpr":"datum.label == 'f' ? 'f(v y)' : datum.label == '50f' ? '\u00a050f(v y)' : datum.label == 'm' ? 'Mxwl' : '\u00a050Mxwl'","encode":{"symbols":{"update":{"strokeDash":{"signal":"(datum.value === 'm' || datum.value === '50m') ? [6,4] : [1,0]"}}}}}},
         "strokeDash":{"field":"s","type":"nominal","scale":{"domain":["f","50f","m","50m"],"range":[[1,0],[1,0],[6,4],[6,4]]},"legend":null}
        }},
       {"data":{"values":[{"lab":"(c)"}]},"mark":{"type":"text","align":"left","fontSize":11,"color":"#444"},
        "encoding":{"x":{"datum":-9.4,"type":"quantitative","axis":null},"y":{"datum":0.87,"type":"quantitative","axis":null},"text":{"field":"lab","type":"nominal"}}}
      ],
      "resolve":{"axis":{"x":"independent","y":"independent"}}},
     {"width":162,"height":157,"title":{"text":"ion","dx":-23,"offset":-13},
      "layer":[
       {"data":{"name":"if"},"mark":{"type":"line","clip":true},
        "encoding":{
         "x":{"field":"v","type":"quantitative","scale":{"domain":[-10,10],"nice":false,"zero":false},"axis":{"orient":"bottom","title":null,"values":[-10,-9,-8,-7,-6,-5,-4,-3,-2,-1,0,1,2,3,4,5,6,7,8,9,10],"labelExpr":"datum.value % 5 === 0 ? replace(datum.label, '\u2212', '-') : ''","tickSize":{"condition":{"test":"datum.value % 5 === 0","value":-6},"value":-3},"labelPadding":6,"labelFlush":false,"labelOverlap":false}},
         "y":{"field":"p","type":"quantitative","scale":{"domain":[0,4],"nice":false},"axis":{"orient":"left","title":null,"values":[0,0.2,0.4,0.6,0.8,1,1.2,1.4,1.6,1.8,2,2.2,2.4,2.6,2.8,3,3.2,3.4,3.6,3.8,4],"format":".0f","labelExpr":"round(datum.value*10) % 10 === 0 ? datum.label : ''","tickSize":{"condition":{"test":"round(datum.value*10) % 10 === 0","value":-6},"value":-3},"labelPadding":8,"labelOverlap":false}},
         "color":{"field":"s","type":"nominal","scale":{"domain":["f","50f","m","50m"],"range":["#4f4fff","#2e9e2e","#ff5a5a","#3ee6e6"]},"legend":{"orient":"none","legendX":75,"legendY":-18,"title":null,"symbolType":"stroke","symbolSize":1024,"clipHeight":17,"labelOffset":9,"zindex":1,"labelExpr":"datum.label == 'f' ? 'f(v y)' : datum.label == '50f' ? '\u00a050f(v y)' : datum.label == 'm' ? 'Mxwl' : '\u00a050Mxwl'","encode":{"symbols":{"update":{"strokeDash":{"signal":"(datum.value === 'm' || datum.value === '50m') ? [6,4] : [1,0]"}}}}}},
         "strokeDash":{"field":"s","type":"nominal","scale":{"domain":["f","50f","m","50m"],"range":[[1,0],[1,0],[6,4],[6,4]]},"legend":null}
        }},
       {"data":{"name":"im"},"mark":{"type":"line","clip":true},
        "encoding":{
         "x":{"field":"v","type":"quantitative","scale":{"domain":[-10,10],"nice":false,"zero":false},"axis":{"orient":"top","title":null,"values":[-10,-9,-8,-7,-6,-5,-4,-3,-2,-1,0,1,2,3,4,5,6,7,8,9,10],"labels":false,"tickSize":{"condition":{"test":"datum.value % 5 === 0","value":-6},"value":-3}}},
         "y":{"field":"p","type":"quantitative","scale":{"domain":[0,4],"nice":false},"axis":{"orient":"right","title":null,"values":[0,0.2,0.4,0.6,0.8,1,1.2,1.4,1.6,1.8,2,2.2,2.4,2.6,2.8,3,3.2,3.4,3.6,3.8,4],"labels":false,"tickSize":{"condition":{"test":"round(datum.value*10) % 10 === 0","value":-6},"value":-3}}},
         "color":{"field":"s","type":"nominal","scale":{"domain":["f","50f","m","50m"],"range":["#4f4fff","#2e9e2e","#ff5a5a","#3ee6e6"]},"legend":{"orient":"none","legendX":75,"legendY":-18,"title":null,"symbolType":"stroke","symbolSize":1024,"clipHeight":17,"labelOffset":9,"zindex":1,"labelExpr":"datum.label == 'f' ? 'f(v y)' : datum.label == '50f' ? '\u00a050f(v y)' : datum.label == 'm' ? 'Mxwl' : '\u00a050Mxwl'","encode":{"symbols":{"update":{"strokeDash":{"signal":"(datum.value === 'm' || datum.value === '50m') ? [6,4] : [1,0]"}}}}}},
         "strokeDash":{"field":"s","type":"nominal","scale":{"domain":["f","50f","m","50m"],"range":[[1,0],[1,0],[6,4],[6,4]]},"legend":null}
        }},
       {"data":{"values":[{"lab":"(d)"}]},"mark":{"type":"text","align":"left","fontSize":11,"color":"#444"},
        "encoding":{"x":{"datum":-8.8,"type":"quantitative","axis":null},"y":{"datum":3.48,"type":"quantitative","axis":null},"text":{"field":"lab","type":"nominal"}}}
      ],
      "resolve":{"axis":{"x":"independent","y":"independent"}}}
    ]},
   {"spacing":17,
    "resolve":{"scale":{"x":"independent","y":"independent","color":"independent","strokeDash":"independent"}},
    "hconcat":[
     {"width":161,"height":157,"title":{"text":"electron","dx":-15,"offset":-13},
      "layer":[
       {"data":{"name":"ef"},"mark":{"type":"line","clip":true},
        "encoding":{
         "x":{"field":"v","type":"quantitative","scale":{"domain":[-10,10],"nice":false,"zero":false},"axis":{"orient":"bottom","title":null,"values":[-10,-9,-8,-7,-6,-5,-4,-3,-2,-1,0,1,2,3,4,5,6,7,8,9,10],"labelExpr":"datum.value % 5 === 0 ? replace(datum.label, '\u2212', '-') : ''","tickSize":{"condition":{"test":"datum.value % 5 === 0","value":-6},"value":-3},"labelPadding":6,"labelFlush":false,"labelOverlap":false}},
         "y":{"field":"p","type":"quantitative","scale":{"domain":[0,1],"nice":false},"axis":{"orient":"left","title":null,"values":[0,0.05,0.1,0.15,0.2,0.25,0.3,0.35,0.4,0.45,0.5,0.55,0.6,0.65,0.7,0.75,0.8,0.85,0.9,0.95,1],"format":".1f","labelExpr":"round(datum.value*100) % 20 === 0 ? datum.label : ''","tickSize":{"condition":{"test":"round(datum.value*100) % 20 === 0","value":-6},"value":-3},"labelPadding":8,"labelOverlap":false}},
         "color":{"field":"s","type":"nominal","scale":{"domain":["f","50f","m","50m"],"range":["#4f4fff","#1f7f1f","#ff5a5a","#3ee6e6"]},"legend":{"orient":"none","legendX":83,"legendY":-18,"title":null,"symbolType":"stroke","symbolSize":1024,"clipHeight":17,"labelOffset":9,"zindex":1,"labelExpr":"datum.label == 'f' ? 'f(v z)' : datum.label == '50f' ? '\u00a050f(v z)' : datum.label == 'm' ? 'Mxwl' : '\u00a050Mxwl'","encode":{"symbols":{"update":{"strokeDash":{"signal":"(datum.value === 'm' || datum.value === '50m') ? [6,4] : [1,0]"}}}}}},
         "strokeDash":{"field":"s","type":"nominal","scale":{"domain":["f","50f","m","50m"],"range":[[1,0],[1,0],[6,4],[6,4]]},"legend":null}
        }},
       {"data":{"name":"mxe"},"mark":{"type":"line","clip":true},
        "encoding":{
         "x":{"field":"v","type":"quantitative","scale":{"domain":[-10,10],"nice":false,"zero":false},"axis":{"orient":"top","title":null,"values":[-10,-9,-8,-7,-6,-5,-4,-3,-2,-1,0,1,2,3,4,5,6,7,8,9,10],"labels":false,"tickSize":{"condition":{"test":"datum.value % 5 === 0","value":-6},"value":-3}}},
         "y":{"field":"p","type":"quantitative","scale":{"domain":[0,1],"nice":false},"axis":{"orient":"right","title":null,"values":[0,0.05,0.1,0.15,0.2,0.25,0.3,0.35,0.4,0.45,0.5,0.55,0.6,0.65,0.7,0.75,0.8,0.85,0.9,0.95,1],"labels":false,"tickSize":{"condition":{"test":"round(datum.value*100) % 20 === 0","value":-6},"value":-3}}},
         "color":{"field":"s","type":"nominal","scale":{"domain":["f","50f","m","50m"],"range":["#4f4fff","#1f7f1f","#ff5a5a","#3ee6e6"]},"legend":{"orient":"none","legendX":83,"legendY":-18,"title":null,"symbolType":"stroke","symbolSize":1024,"clipHeight":17,"labelOffset":9,"zindex":1,"labelExpr":"datum.label == 'f' ? 'f(v z)' : datum.label == '50f' ? '\u00a050f(v z)' : datum.label == 'm' ? 'Mxwl' : '\u00a050Mxwl'","encode":{"symbols":{"update":{"strokeDash":{"signal":"(datum.value === 'm' || datum.value === '50m') ? [6,4] : [1,0]"}}}}}},
         "strokeDash":{"field":"s","type":"nominal","scale":{"domain":["f","50f","m","50m"],"range":[[1,0],[1,0],[6,4],[6,4]]},"legend":null}
        }},
       {"data":{"values":[{"lab":"(e)"}]},"mark":{"type":"text","align":"left","fontSize":11,"color":"#444"},
        "encoding":{"x":{"datum":-9.4,"type":"quantitative","axis":null},"y":{"datum":0.87,"type":"quantitative","axis":null},"text":{"field":"lab","type":"nominal"}}}
      ],
      "resolve":{"axis":{"x":"independent","y":"independent"}}},
     {"width":162,"height":157,"title":{"text":"ion","dx":-23,"offset":-13},
      "layer":[
       {"data":{"name":"if"},"mark":{"type":"line","clip":true},
        "encoding":{
         "x":{"field":"v","type":"quantitative","scale":{"domain":[-10,10],"nice":false,"zero":false},"axis":{"orient":"bottom","title":null,"values":[-10,-9,-8,-7,-6,-5,-4,-3,-2,-1,0,1,2,3,4,5,6,7,8,9,10],"labelExpr":"datum.value % 5 === 0 ? replace(datum.label, '\u2212', '-') : ''","tickSize":{"condition":{"test":"datum.value % 5 === 0","value":-6},"value":-3},"labelPadding":6,"labelFlush":false,"labelOverlap":false}},
         "y":{"field":"p","type":"quantitative","scale":{"domain":[0,4],"nice":false},"axis":{"orient":"left","title":null,"values":[0,0.2,0.4,0.6,0.8,1,1.2,1.4,1.6,1.8,2,2.2,2.4,2.6,2.8,3,3.2,3.4,3.6,3.8,4],"format":".0f","labelExpr":"round(datum.value*10) % 10 === 0 ? datum.label : ''","tickSize":{"condition":{"test":"round(datum.value*10) % 10 === 0","value":-6},"value":-3},"labelPadding":8,"labelOverlap":false}},
         "color":{"field":"s","type":"nominal","scale":{"domain":["f","50f","m","50m"],"range":["#4f4fff","#2e9e2e","#ff5a5a","#3ee6e6"]},"legend":{"orient":"none","legendX":75,"legendY":-18,"title":null,"symbolType":"stroke","symbolSize":1024,"clipHeight":17,"labelOffset":9,"zindex":1,"labelExpr":"datum.label == 'f' ? 'f(v z)' : datum.label == '50f' ? '\u00a050f(v z)' : datum.label == 'm' ? 'Mxwl' : '\u00a050Mxwl'","encode":{"symbols":{"update":{"strokeDash":{"signal":"(datum.value === 'm' || datum.value === '50m') ? [6,4] : [1,0]"}}}}}},
         "strokeDash":{"field":"s","type":"nominal","scale":{"domain":["f","50f","m","50m"],"range":[[1,0],[1,0],[6,4],[6,4]]},"legend":null}
        }},
       {"data":{"name":"im"},"mark":{"type":"line","clip":true},
        "encoding":{
         "x":{"field":"v","type":"quantitative","scale":{"domain":[-10,10],"nice":false,"zero":false},"axis":{"orient":"top","title":null,"values":[-10,-9,-8,-7,-6,-5,-4,-3,-2,-1,0,1,2,3,4,5,6,7,8,9,10],"labels":false,"tickSize":{"condition":{"test":"datum.value % 5 === 0","value":-6},"value":-3}}},
         "y":{"field":"p","type":"quantitative","scale":{"domain":[0,4],"nice":false},"axis":{"orient":"right","title":null,"values":[0,0.2,0.4,0.6,0.8,1,1.2,1.4,1.6,1.8,2,2.2,2.4,2.6,2.8,3,3.2,3.4,3.6,3.8,4],"labels":false,"tickSize":{"condition":{"test":"round(datum.value*10) % 10 === 0","value":-6},"value":-3}}},
         "color":{"field":"s","type":"nominal","scale":{"domain":["f","50f","m","50m"],"range":["#4f4fff","#2e9e2e","#ff5a5a","#3ee6e6"]},"legend":{"orient":"none","legendX":75,"legendY":-18,"title":null,"symbolType":"stroke","symbolSize":1024,"clipHeight":17,"labelOffset":9,"zindex":1,"labelExpr":"datum.label == 'f' ? 'f(v z)' : datum.label == '50f' ? '\u00a050f(v z)' : datum.label == 'm' ? 'Mxwl' : '\u00a050Mxwl'","encode":{"symbols":{"update":{"strokeDash":{"signal":"(datum.value === 'm' || datum.value === '50m') ? [6,4] : [1,0]"}}}}}},
         "strokeDash":{"field":"s","type":"nominal","scale":{"domain":["f","50f","m","50m"],"range":[[1,0],[1,0],[6,4],[6,4]]},"legend":null}
        }},
       {"data":{"values":[{"lab":"(f)"}]},"mark":{"type":"text","align":"left","fontSize":11,"color":"#444"},
        "encoding":{"x":{"datum":-8.8,"type":"quantitative","axis":null},"y":{"datum":3.48,"type":"quantitative","axis":null},"text":{"field":"lab","type":"nominal"}}}
      ],
      "resolve":{"axis":{"x":"independent","y":"independent"}}}
    ]}
  ]},
   {"spacing":23,
    "resolve":{"scale":{"x":"independent","y":"independent","color":"independent","strokeDash":"independent"}},
    "hconcat":[
     {"width":161,"height":157,"title":{"text":"electron","dx":-15,"offset":-2},
      "layer":[
       {"data":{"name":"gc"},"mark":{"type":"line","clip":true,"color":"#1e1e1e","strokeWidth":1.1},
        "encoding":{
         "x":{"field":"x","type":"quantitative","scale":{"domain":[-10,10],"nice":false,"zero":false},"axis":{"orient":"bottom","title":null,"values":[-10,-9,-8,-7,-6,-5,-4,-3,-2,-1,0,1,2,3,4,5,6,7,8,9,10],"labelExpr":"datum.value % 5 === 0 ? replace(datum.label, '\u2212', '-') : ''","tickSize":{"condition":{"test":"datum.value % 5 === 0","value":-6},"value":-3},"labelPadding":6,"labelFlush":false,"labelOverlap":false}},
         "y":{"field":"y","type":"quantitative","scale":{"domain":[-10,10],"nice":false,"zero":false},"axis":{"orient":"left","title":null,"values":[-10,-9,-8,-7,-6,-5,-4,-3,-2,-1,0,1,2,3,4,5,6,7,8,9,10],"labelExpr":"datum.value % 5 === 0 ? replace(datum.label, '\u2212', '-') : ''","tickSize":{"condition":{"test":"datum.value % 5 === 0","value":-6},"value":-3},"labelPadding":8,"labelOverlap":false}},
         "detail":{"field":"c","type":"nominal"},
         "order":{"field":"i","type":"quantitative"}
        }},
       {"data":{"values":[{}]},"mark":{"type":"point","opacity":0},
        "encoding":{
         "x":{"datum":0,"type":"quantitative","axis":{"orient":"top","title":null,"values":[-10,-9,-8,-7,-6,-5,-4,-3,-2,-1,0,1,2,3,4,5,6,7,8,9,10],"labels":false,"tickSize":{"condition":{"test":"datum.value % 5 === 0","value":-6},"value":-3}}},
         "y":{"datum":0,"type":"quantitative","axis":{"orient":"right","title":null,"values":[-10,-9,-8,-7,-6,-5,-4,-3,-2,-1,0,1,2,3,4,5,6,7,8,9,10],"labels":false,"tickSize":{"condition":{"test":"datum.value % 5 === 0","value":-6},"value":-3}}}
        }},
       {"data":{"values":[{}]},"mark":{"type":"rule","color":"#ff5a5a","strokeWidth":1.5},
        "encoding":{"x":{"datum":-0.77,"type":"quantitative","axis":null}}},
       {"data":{"values":[{"lab":"(g)"}]},"mark":{"type":"text","align":"left","fontSize":11,"color":"#444"},
        "encoding":{"x":{"datum":-9.4,"type":"quantitative","axis":null},"y":{"datum":6.8,"type":"quantitative","axis":null},"text":{"field":"lab","type":"nominal"}}}
      ],
      "resolve":{"axis":{"x":"independent","y":"independent"}}},
     {"width":162,"height":157,"title":{"text":"ion","dx":-22,"offset":-2},
      "layer":[
       {"data":{"name":"hc"},"mark":{"type":"line","clip":true,"color":"#2a2a2a","strokeWidth":1.6},
        "encoding":{
         "x":{"field":"x","type":"quantitative","scale":{"domain":[-10,10],"nice":false,"zero":false},"axis":{"orient":"bottom","title":null,"values":[-10,-9,-8,-7,-6,-5,-4,-3,-2,-1,0,1,2,3,4,5,6,7,8,9,10],"labelExpr":"datum.value % 5 === 0 ? replace(datum.label, '\u2212', '-') : ''","tickSize":{"condition":{"test":"datum.value % 5 === 0","value":-6},"value":-3},"labelPadding":6,"labelFlush":false,"labelOverlap":false}},
         "y":{"field":"y","type":"quantitative","scale":{"domain":[-10,10],"nice":false,"zero":false},"axis":{"orient":"left","title":null,"values":[-10,-9,-8,-7,-6,-5,-4,-3,-2,-1,0,1,2,3,4,5,6,7,8,9,10],"labelExpr":"datum.value % 5 === 0 ? replace(datum.label, '\u2212', '-') : ''","tickSize":{"condition":{"test":"datum.value % 5 === 0","value":-6},"value":-3},"labelPadding":8,"labelOverlap":false}},
         "detail":{"field":"c","type":"nominal"},
         "order":{"field":"i","type":"quantitative"}
        }},
       {"data":{"values":[{}]},"mark":{"type":"point","opacity":0},
        "encoding":{
         "x":{"datum":0,"type":"quantitative","axis":{"orient":"top","title":null,"values":[-10,-9,-8,-7,-6,-5,-4,-3,-2,-1,0,1,2,3,4,5,6,7,8,9,10],"labels":false,"tickSize":{"condition":{"test":"datum.value % 5 === 0","value":-6},"value":-3}}},
         "y":{"datum":0,"type":"quantitative","axis":{"orient":"right","title":null,"values":[-10,-9,-8,-7,-6,-5,-4,-3,-2,-1,0,1,2,3,4,5,6,7,8,9,10],"labels":false,"tickSize":{"condition":{"test":"datum.value % 5 === 0","value":-6},"value":-3}}}
        }},
       {"data":{"values":[{}]},"mark":{"type":"rule","color":"#ff5a5a","strokeWidth":1.5},
        "encoding":{"x":{"datum":0,"type":"quantitative","axis":null}}},
       {"data":{"values":[{"lab":"(h)"}]},"mark":{"type":"text","align":"left","fontSize":11,"color":"#444"},
        "encoding":{"x":{"datum":-8.9,"type":"quantitative","axis":null},"y":{"datum":6.8,"type":"quantitative","axis":null},"text":{"field":"lab","type":"nominal"}}}
      ],
      "resolve":{"axis":{"x":"independent","y":"independent"}}}
    ]}
  ]},
  {"width":161,"height":12,"view":{"stroke":null},"data":{"name":"txt0"},
   "mark":{"type":"text","align":"left","baseline":"middle","fontSize":11,"color":"#333"},
   "encoding":{
    "x":{"field":"col","type":"quantitative","scale":{"domain":[0.727,30],"nice":false,"zero":false},"axis":null},
    "y":{"field":"line","type":"ordinal","axis":null},
    "text":{"field":"txt","type":"nominal"}
   }}
 ]},
 {"spacing":12,
  "resolve":{"scale":{"x":"independent","y":"independent","color":"independent","strokeDash":"independent"}},
  "hconcat":[
   {"width":185,"height":115,"view":{"stroke":null},"data":{"name":"txt"},
    "mark":{"type":"text","align":"left","baseline":"middle","fontSize":11,"color":"#333"},
    "encoding":{
     "x":{"field":"col","type":"quantitative","scale":{"domain":[0.727,34.364],"nice":false,"zero":false},"axis":null},
     "y":{"field":"line","type":"quantitative","scale":{"domain":[1.687,7.229],"reverse":true,"nice":false,"zero":false},"axis":null},
     "text":{"field":"txt","type":"nominal"}
    }},
   {"width":186,"height":115,
    "layer":[
     {"data":{"name":"ti"},"mark":{"type":"line","color":"#ff0d0d","strokeWidth":9,"clip":true,"strokeCap":"butt"},
      "encoding":{
       "x":{"field":"t","type":"quantitative","scale":{"domain":[0,221.331],"nice":false,"zero":false},"axis":{"orient":"bottom","title":"t (ps)","titleFontSize":8.5,"titlePadding":0,"values":[0,10,20,30,40,50,60,70,80,90,100,110,120,130,140,150,160,170,180,190,200,210,220],"labelExpr":"datum.value % 50 === 0 ? datum.label : ''","tickSize":{"condition":{"test":"datum.value % 50 === 0","value":-6},"value":-3},"labelPadding":6,"labelFlush":false,"labelOverlap":false}},
       "y":{"field":"r","type":"quantitative","scale":{"domain":[1.2,1.8],"nice":false,"zero":false},"axis":null}
      }},
     {"data":{"values":[{}]},"mark":{"type":"point","opacity":0},
      "encoding":{
       "x":{"datum":0,"type":"quantitative","axis":{"orient":"top","title":null,"values":[0,10,20,30,40,50,60,70,80,90,100,110,120,130,140,150,160,170,180,190,200,210,220],"labels":false,"tickSize":{"condition":{"test":"datum.value % 50 === 0","value":-6},"value":-3}}},
       "y":{"datum":1.5,"type":"quantitative","axis":null}
      }},
     {"data":{"values":[{"lab":"(i)"}]},"mark":{"type":"text","align":"left","fontSize":11,"color":"#444"},
      "encoding":{"x":{"datum":11,"type":"quantitative","axis":null},"y":{"datum":1.706,"type":"quantitative","axis":null},"text":{"field":"lab","type":"nominal"}}}
    ],
    "resolve":{"axis":{"x":"independent"}}}
  ]}
]
}
